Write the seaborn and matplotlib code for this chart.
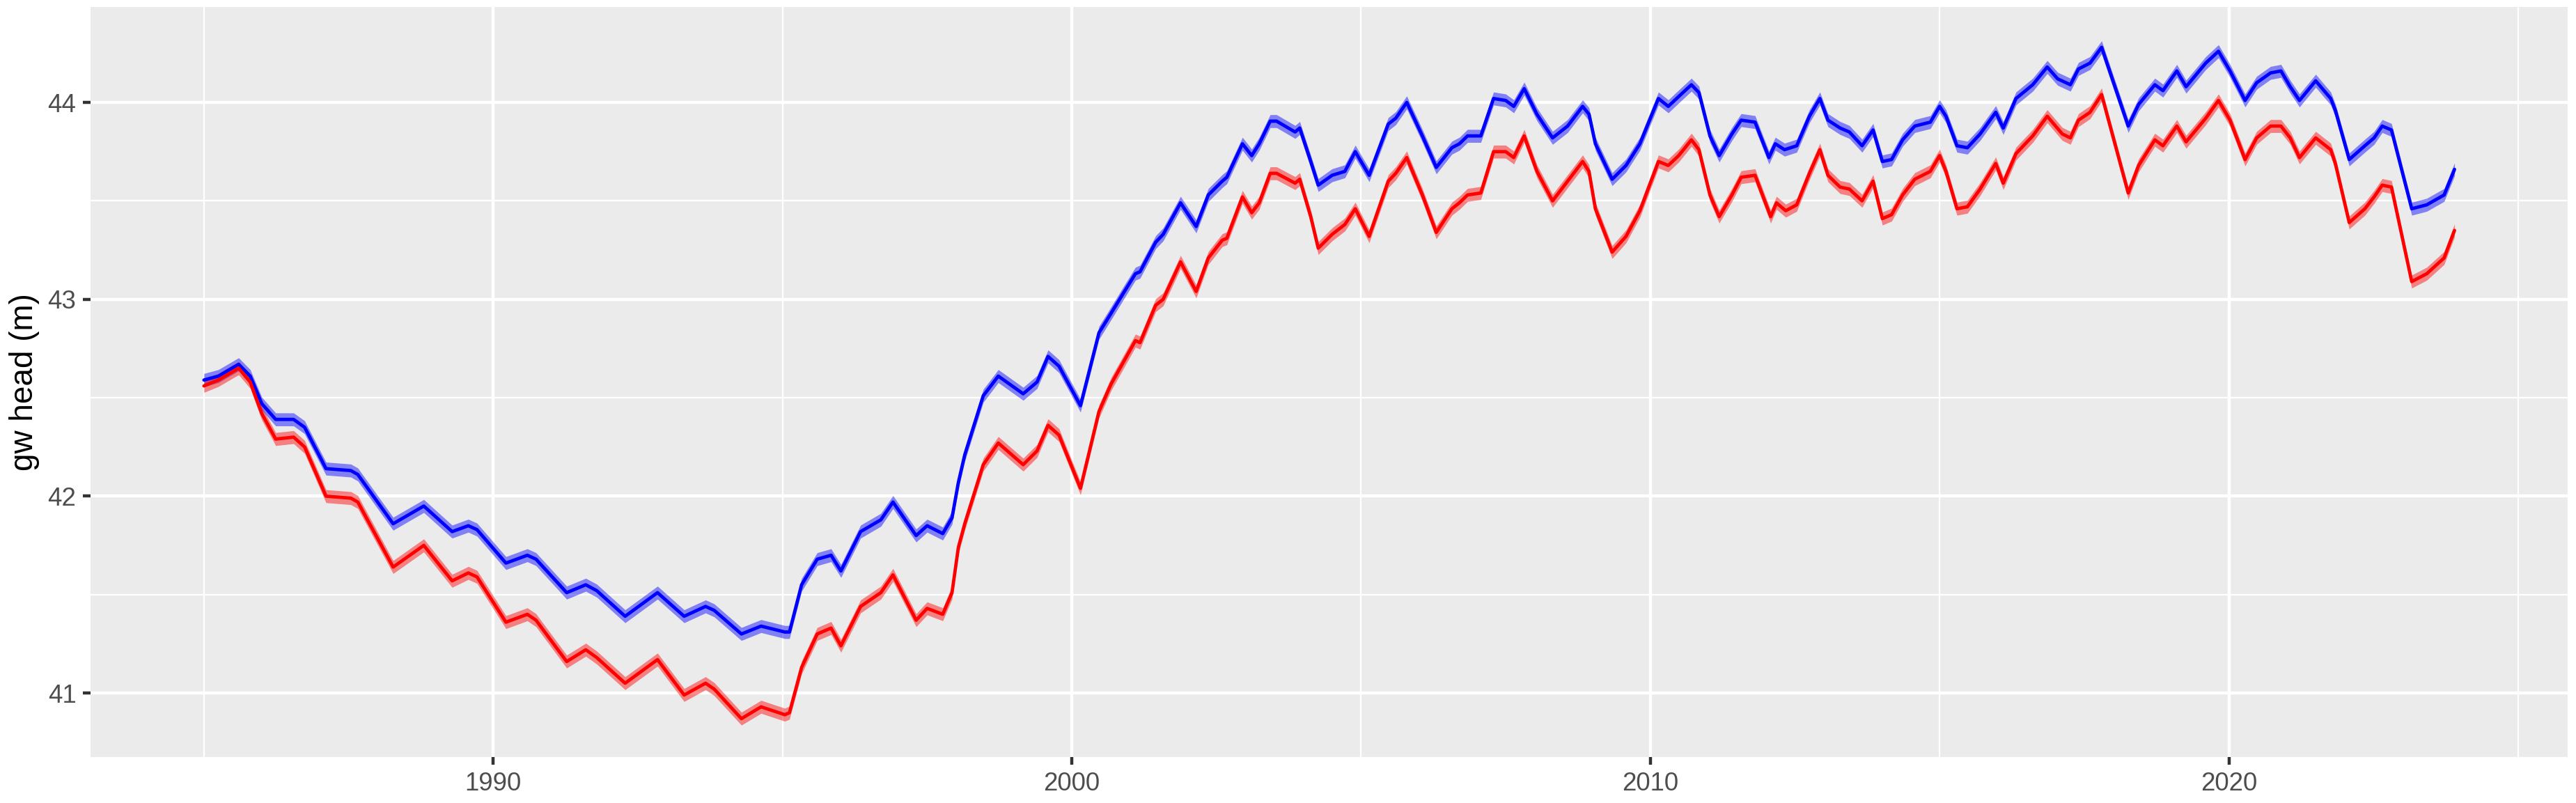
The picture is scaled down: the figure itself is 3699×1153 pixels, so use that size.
import numpy as np
import pandas as pd
import matplotlib
matplotlib.use("Agg")
import matplotlib.pyplot as plt
from matplotlib.ticker import FixedLocator
import seaborn as sns

# ---------------- data ----------------
blue_year = [1985.00, 1985.25, 1985.60, 1985.80, 1986.00, 1986.24, 1986.55, 1986.74, 1987.11, 1987.54,
             1987.66, 1988.27, 1988.80, 1989.29, 1989.57, 1989.72, 1990.22, 1990.59, 1990.74, 1991.27,
             1991.60, 1991.79, 1992.28, 1992.84, 1993.30, 1993.67, 1993.82, 1994.29, 1994.63, 1995.04,
             1995.12, 1995.33, 1995.60, 1995.84, 1996.01, 1996.35, 1996.70, 1996.91, 1997.31, 1997.50,
             1997.77, 1997.93, 1998.04, 1998.15, 1998.47, 1998.73, 1999.16, 1999.40, 1999.59, 1999.78,
             2000.15, 2000.47, 2000.66, 2000.91, 2001.10, 2001.18, 2001.45, 2001.58, 2001.88, 2002.15,
             2002.36, 2002.60, 2002.68, 2002.95, 2003.11, 2003.24, 2003.43, 2003.54, 2003.86, 2003.94,
             2004.13, 2004.26, 2004.50, 2004.72, 2004.90, 2005.14, 2005.47, 2005.60, 2005.79, 2006.06,
             2006.30, 2006.57, 2006.70, 2006.84, 2007.07, 2007.29, 2007.50, 2007.64, 2007.82, 2008.04,
             2008.31, 2008.57, 2008.83, 2008.94, 2009.05, 2009.34, 2009.58, 2009.82, 2010.14, 2010.31,
             2010.49, 2010.71, 2010.84, 2011.03, 2011.19, 2011.41, 2011.57, 2011.81, 2012.05, 2012.16,
             2012.32, 2012.53, 2012.75, 2012.93, 2013.07, 2013.28, 2013.44, 2013.66, 2013.85, 2014.01,
             2014.17, 2014.36, 2014.57, 2014.84, 2015.00, 2015.11, 2015.30, 2015.48, 2015.70, 2015.97,
             2016.10, 2016.32, 2016.61, 2016.86, 2017.04, 2017.26, 2017.40, 2017.60, 2017.80, 2018.26,
             2018.44, 2018.72, 2018.86, 2019.10, 2019.26, 2019.60, 2019.82, 2020.02, 2020.28, 2020.48,
             2020.72, 2020.90, 2021.06, 2021.22, 2021.50, 2021.76, 2021.84, 2022.08, 2022.35, 2022.51,
             2022.65, 2022.81, 2023.16, 2023.42, 2023.72, 2023.90]
blue_head = [42.59, 42.61, 42.67, 42.61, 42.47, 42.39, 42.39, 42.35, 42.14, 42.13,
             42.11, 41.86, 41.95, 41.82, 41.85, 41.83, 41.66, 41.70, 41.68, 41.51,
             41.55, 41.52, 41.39, 41.51, 41.39, 41.44, 41.42, 41.30, 41.34, 41.31,
             41.31, 41.55, 41.68, 41.70, 41.62, 41.82, 41.88, 41.97, 41.80, 41.85,
             41.81, 41.89, 42.07, 42.21, 42.51, 42.61, 42.52, 42.58, 42.71, 42.66,
             42.46, 42.83, 42.92, 43.04, 43.13, 43.14, 43.29, 43.33, 43.49, 43.37,
             43.53, 43.60, 43.62, 43.79, 43.73, 43.79, 43.905, 43.905, 43.85, 43.87,
             43.70, 43.58, 43.63, 43.65, 43.75, 43.63, 43.89, 43.92, 44.00, 43.83,
             43.67, 43.77, 43.79, 43.83, 43.83, 44.02, 44.01, 43.98, 44.07, 43.94,
             43.82, 43.88, 43.98, 43.94, 43.79, 43.61, 43.68, 43.79, 44.02, 43.98,
             44.03, 44.09, 44.05, 43.83, 43.73, 43.84, 43.91, 43.90, 43.72, 43.79,
             43.76, 43.78, 43.93, 44.02, 43.91, 43.87, 43.85, 43.78, 43.86, 43.70,
             43.71, 43.81, 43.88, 43.90, 43.98, 43.93, 43.78, 43.77, 43.84, 43.95,
             43.87, 44.02, 44.09, 44.18, 44.12, 44.09, 44.17, 44.20, 44.28, 43.88,
             43.99, 44.09, 44.06, 44.16, 44.08, 44.20, 44.26, 44.16, 44.01, 44.10,
             44.15, 44.16, 44.08, 44.01, 44.11, 44.02, 43.96, 43.71, 43.78, 43.82,
             43.88, 43.86, 43.46, 43.48, 43.53, 43.66]

red_year = [1985.00, 1985.25, 1985.60, 1985.80, 1986.00, 1986.24, 1986.55, 1986.74, 1987.11, 1987.54,
            1987.66, 1988.27, 1988.80, 1989.29, 1989.57, 1989.72, 1990.22, 1990.59, 1990.74, 1991.27,
            1991.60, 1991.79, 1992.28, 1992.84, 1993.30, 1993.67, 1993.82, 1994.29, 1994.63, 1995.04,
            1995.12, 1995.33, 1995.60, 1995.84, 1996.01, 1996.35, 1996.70, 1996.91, 1997.31, 1997.50,
            1997.77, 1997.93, 1998.04, 1998.15, 1998.47, 1998.73, 1999.16, 1999.40, 1999.59, 1999.78,
            2000.15, 2000.47, 2000.68, 2001.10, 2001.18, 2001.45, 2001.58, 2001.88, 2002.15, 2002.36,
            2002.60, 2002.68, 2002.95, 2003.11, 2003.24, 2003.43, 2003.54, 2003.86, 2003.94, 2004.13,
            2004.26, 2004.50, 2004.72, 2004.90, 2005.14, 2005.47, 2005.60, 2005.79, 2006.06, 2006.30,
            2006.57, 2006.70, 2006.84, 2007.07, 2007.29, 2007.50, 2007.64, 2007.82, 2008.04, 2008.31,
            2008.57, 2008.83, 2008.94, 2009.05, 2009.34, 2009.58, 2009.82, 2010.14, 2010.31, 2010.49,
            2010.71, 2010.84, 2011.03, 2011.19, 2011.41, 2011.57, 2011.81, 2012.08, 2012.18, 2012.34,
            2012.53, 2012.75, 2012.93, 2013.07, 2013.28, 2013.44, 2013.66, 2013.85, 2014.01, 2014.17,
            2014.36, 2014.57, 2014.84, 2015.00, 2015.11, 2015.30, 2015.48, 2015.70, 2015.97, 2016.10,
            2016.32, 2016.61, 2016.86, 2017.12, 2017.26, 2017.40, 2017.60, 2017.80, 2018.26, 2018.44,
            2018.72, 2018.86, 2019.10, 2019.26, 2019.60, 2019.82, 2020.02, 2020.28, 2020.48, 2020.72,
            2020.90, 2021.06, 2021.22, 2021.50, 2021.76, 2021.84, 2022.08, 2022.35, 2022.51, 2022.65,
            2022.81, 2023.16, 2023.42, 2023.72, 2023.90]
red_head = [42.56, 42.59, 42.65, 42.58, 42.42, 42.29, 42.30, 42.25, 42.00, 41.99,
            41.97, 41.64, 41.75, 41.57, 41.61, 41.59, 41.36, 41.40, 41.37, 41.16,
            41.22, 41.18, 41.05, 41.17, 40.99, 41.05, 41.02, 40.87, 40.93, 40.89,
            40.90, 41.13, 41.30, 41.33, 41.24, 41.44, 41.51, 41.60, 41.37, 41.43,
            41.40, 41.51, 41.74, 41.86, 42.16, 42.27, 42.16, 42.23, 42.36, 42.31,
            42.04, 42.43, 42.57, 42.79, 42.78, 42.97, 43.00, 43.19, 43.04, 43.21,
            43.30, 43.31, 43.52, 43.44, 43.49, 43.64, 43.64, 43.59, 43.61, 43.42,
            43.26, 43.33, 43.38, 43.46, 43.32, 43.60, 43.64, 43.72, 43.53, 43.34,
            43.46, 43.49, 43.53, 43.54, 43.75, 43.75, 43.72, 43.83, 43.65, 43.50,
            43.60, 43.70, 43.65, 43.46, 43.24, 43.32, 43.45, 43.70, 43.68, 43.73,
            43.81, 43.76, 43.53, 43.42, 43.53, 43.62, 43.63, 43.42, 43.49, 43.45,
            43.48, 43.64, 43.76, 43.63, 43.57, 43.56, 43.50, 43.60, 43.41, 43.43,
            43.53, 43.61, 43.65, 43.73, 43.65, 43.46, 43.47, 43.56, 43.69, 43.59,
            43.74, 43.83, 43.93, 43.84, 43.82, 43.91, 43.95, 44.04, 43.54, 43.68,
            43.81, 43.78, 43.88, 43.80, 43.92, 44.01, 43.91, 43.71, 43.82, 43.88,
            43.88, 43.82, 43.72, 43.82, 43.76, 43.69, 43.39, 43.46, 43.52, 43.58,
            43.57, 43.09, 43.13, 43.21, 43.35]

band_halfwidth = 0.033         # half-width of the uncertainty ribbon (m)
series_names = ["blue", "red"]
series_colors = ["#0000FF", "#FF0000"]
x_major = [1990, 2000, 2010, 2020]
x_minor = [1985, 1995, 2005, 2015, 2025]
y_major = [41, 42, 43, 44]
y_minor = [40.5, 41.5, 42.5, 43.5, 44.5]
y_label = "gw head (m)"

# ---------------- frame ----------------
df = pd.concat([
    pd.DataFrame({"year": blue_year, "head": blue_head, "series": "blue"}),
    pd.DataFrame({"year": red_year, "head": red_head, "series": "red"}),
], ignore_index=True)
df["lo"] = df["head"] - band_halfwidth
df["hi"] = df["head"] + band_halfwidth

# ---------------- style (ggplot2 theme_grey look) ----------------
sns.set_theme(style="darkgrid", rc={
    "axes.facecolor": "#EBEBEB",
    "figure.facecolor": "white",
    "grid.color": "white",
})
plt.rcParams["font.family"] = ["Liberation Sans", "DejaVu Sans"]

W, H, DPI = 3699, 1153, 300
fig = plt.figure(figsize=(W / DPI, H / DPI), dpi=DPI)
ax = fig.add_axes([130 / W, 1 - 1087 / H, (3687 - 130) / W, (1087 - 10) / H])

palette = dict(zip(series_names, series_colors))

for name in series_names:
    sub = df[df["series"] == name]
    ax.fill_between(sub["year"], sub["lo"], sub["hi"], color=palette[name],
                    alpha=0.45, linewidth=0, zorder=2)

sns.lineplot(data=df, x="year", y="head", hue="series", hue_order=series_names,
             palette=palette, estimator=None, sort=False, linewidth=1.15,
             legend=False, ax=ax, zorder=3)

ax.set_xlim(1983.04, 2025.855)
ax.set_ylim(40.675, 44.485)

ax.xaxis.set_major_locator(FixedLocator(x_major))
ax.xaxis.set_minor_locator(FixedLocator(x_minor))
ax.yaxis.set_major_locator(FixedLocator(y_major))
ax.yaxis.set_minor_locator(FixedLocator(y_minor))
ax.set_xticklabels([str(v) for v in x_major])
ax.set_yticklabels([str(v) for v in y_major])

ax.grid(which="major", color="white", linewidth=1.07)
ax.grid(which="minor", color="white", linewidth=0.53)
ax.set_axisbelow(True)
for s in ax.spines.values():
    s.set_visible(False)

ax.tick_params(axis="both", which="major", length=2.75, width=1.07, color="#333333",
               labelsize=8.8, labelcolor="#4D4D4D", pad=2.2,
               bottom=True, left=True)
ax.tick_params(axis="both", which="minor", length=0, bottom=False, left=False)

ax.set_xlabel("")
ax.set_ylabel(y_label, fontsize=11, color="black", labelpad=2.75)

fig.savefig("out.png", dpi=DPI)
